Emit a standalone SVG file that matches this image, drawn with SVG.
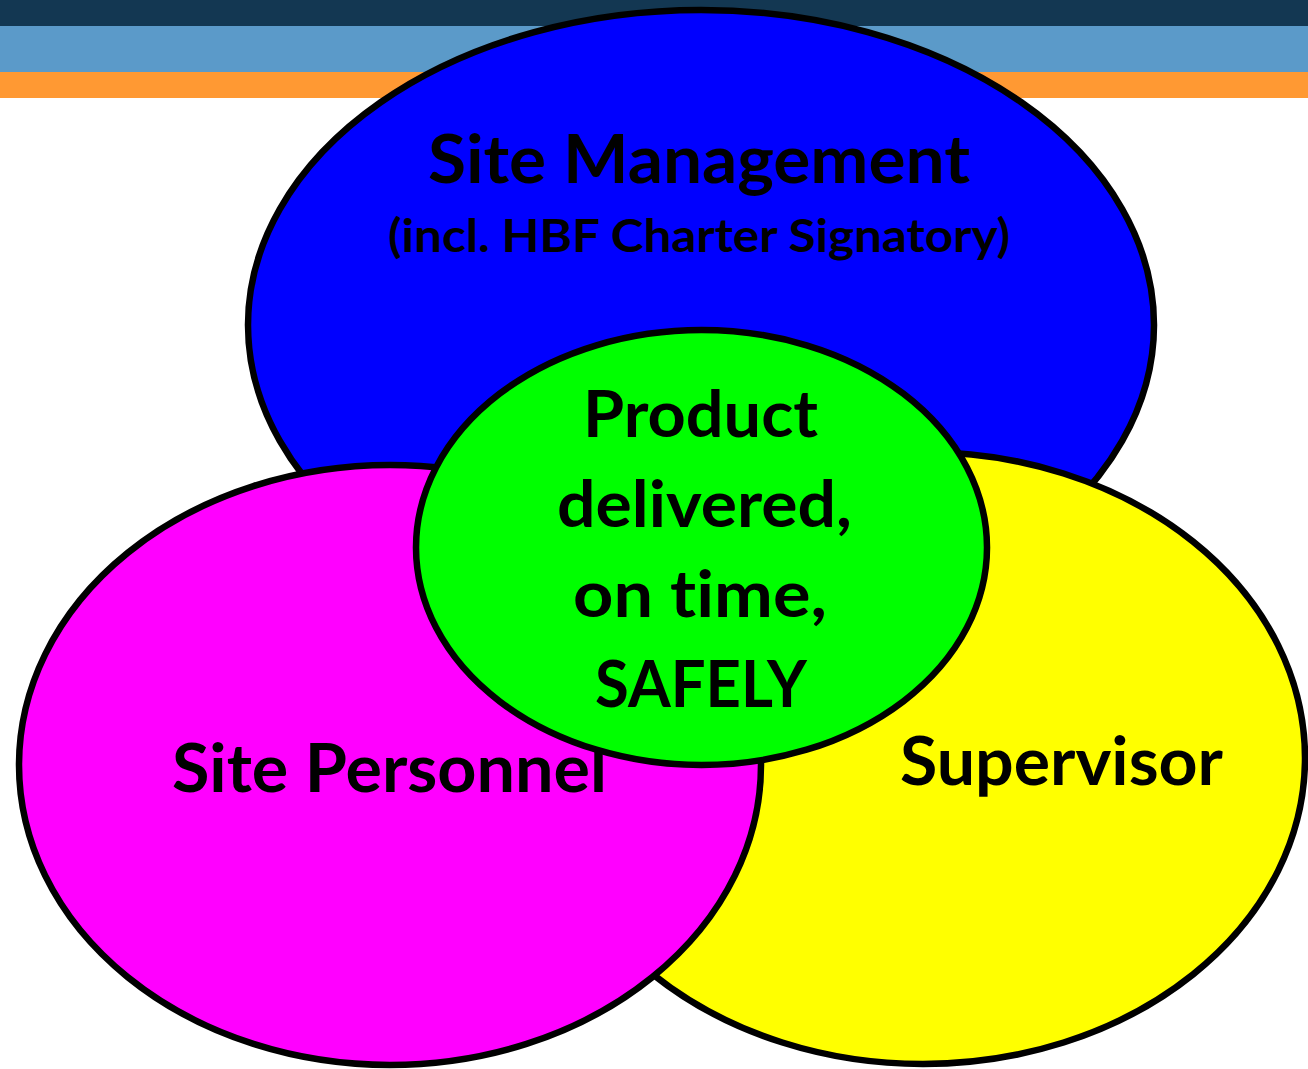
<svg xmlns="http://www.w3.org/2000/svg" width="1308" height="1069" viewBox="0 0 1308 1069">
<style>
.ov{stroke:#000;stroke-width:6.5}
.t{font-family:Lato,"Open Sans","Liberation Sans",sans-serif;font-weight:bold;fill:#000;text-anchor:middle;font-variant-ligatures:none;font-feature-settings:"liga" 0,"clig" 0}
</style>
<rect width="1308" height="1069" fill="#fff"/>
<g id="header">
<rect x="0" y="0" width="1308" height="26" fill="#133752"/>
<rect x="0" y="26" width="1308" height="46" fill="#5B9AC9"/>
<rect x="0" y="72" width="1308" height="26" fill="#FF9933"/>
</g>
<g id="site-management">
<ellipse class="ov" cx="701" cy="325" rx="453" ry="315" fill="#0000FF"/>
<text class="t" x="699" y="183" font-size="67" textLength="542" lengthAdjust="spacingAndGlyphs">Site Management</text>
<text class="t" x="699" y="252" font-size="45" textLength="622" lengthAdjust="spacingAndGlyphs">(incl. HBF Charter Signatory)</text>
</g>
<g id="supervisor">
<ellipse class="ov" cx="923" cy="758" rx="382" ry="306" fill="#FFFF00"/>
<text class="t" x="1061.5" y="785" font-size="66" textLength="323" lengthAdjust="spacingAndGlyphs">Supervisor</text>
</g>
<g id="site-personnel">
<ellipse class="ov" cx="390" cy="765" rx="371" ry="300" fill="#FF00FF"/>
<text class="t" x="389.5" y="792" font-size="67" textLength="435" lengthAdjust="spacingAndGlyphs">Site Personnel</text>
</g>
<g id="product">
<ellipse class="ov" cx="701.5" cy="547.5" rx="285.5" ry="217.5" fill="#00FF00"/>
<text class="t" x="700.5" y="437" font-size="65" textLength="235" lengthAdjust="spacingAndGlyphs">Product</text>
<text class="t" x="704.5" y="527" font-size="65" textLength="295" lengthAdjust="spacingAndGlyphs">delivered,</text>
<text class="t" x="700" y="617" font-size="65" textLength="254" lengthAdjust="spacingAndGlyphs">on time,</text>
<text class="t" x="701" y="707" font-size="65" textLength="212" lengthAdjust="spacingAndGlyphs">SAFELY</text>
</g>
<g id="connectors"></g>
</svg>
